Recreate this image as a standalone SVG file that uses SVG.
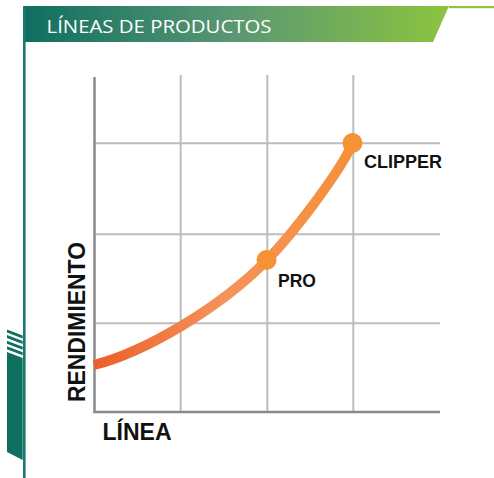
<svg xmlns="http://www.w3.org/2000/svg" width="494" height="478" viewBox="0 0 494 478">
<defs>
<linearGradient id="hdr" x1="23" y1="0" x2="449" y2="0" gradientUnits="userSpaceOnUse">
<stop offset="0" stop-color="#0E6E60"/>
<stop offset="0.5" stop-color="#5A9872"/>
<stop offset="1" stop-color="#8CC43F"/>
</linearGradient>
<linearGradient id="crv" x1="94" y1="0" x2="353" y2="0" gradientUnits="userSpaceOnUse">
<stop offset="0" stop-color="#EC5E28"/>
<stop offset="0.5" stop-color="#F4935C"/>
<stop offset="1" stop-color="#F6903A"/>
</linearGradient>
<style>
.grid{stroke:#bdbdbd;stroke-width:2;fill:none}
.axis{stroke:#8a8a8a;stroke-width:2.5;fill:none}
.lbl{font-family:"Liberation Sans",Arial,sans-serif;font-weight:bold;fill:#111}
.dot{fill:#F59233}
.deco{fill:#0F7060}
</style>
</defs>
<rect width="494" height="478" fill="#ffffff"/>
<g id="header">
<polygon points="23,6 449,6 433,42 23,42" fill="url(#hdr)"/>
<rect x="449" y="6" width="45" height="2.2" fill="#8CC43F"/>
<text x="46.5" y="33.3" font-family="'Open Sans','Liberation Sans',sans-serif" font-size="19" fill="#ffffff" textLength="225" lengthAdjust="spacingAndGlyphs">LÍNEAS DE PRODUCTOS</text>
</g>
<g id="frame">
<rect x="23" y="6" width="2.6" height="472" fill="#1A7A6C"/>
<polygon class="deco" points="7,329.5 22.7,335.5 22.7,338.5 7,332.5"/>
<polygon class="deco" points="7,335.1 22.7,341.1 22.7,344.1 7,338.1"/>
<polygon class="deco" points="7,340.7 22.7,346.7 22.7,349.7 7,343.7"/>
<polygon class="deco" points="7,346.3 22.7,352.3 22.7,355.3 7,349.3"/>
<polygon class="deco" points="7,352 22.7,358 22.7,460 7,452"/>
</g>
<g id="grid">
<line class="grid" x1="180.7" y1="75" x2="180.7" y2="412"/>
<line class="grid" x1="267.3" y1="75" x2="267.3" y2="412"/>
<line class="grid" x1="353.3" y1="75" x2="353.3" y2="412"/>
<line class="grid" x1="94.5" y1="143.3" x2="440" y2="143.3"/>
<line class="grid" x1="94.5" y1="234.3" x2="440" y2="234.3"/>
<line class="grid" x1="94.5" y1="323.3" x2="440" y2="323.3"/>
</g>
<g id="axes">
<line class="axis" x1="94.5" y1="77" x2="94.5" y2="413"/>
<line class="axis" x1="93.3" y1="412" x2="440" y2="412"/>
<text class="lbl" x="102.5" y="440" font-size="23">LÍNEA</text>
<text class="lbl" font-size="23" transform="translate(85,402) rotate(-90)" textLength="160" lengthAdjust="spacingAndGlyphs">RENDIMIENTO</text>
</g>
<g id="connectors">
<path d="M94,365 C145,352 220,308 267,260 C292,234.5 338,175 353,143" fill="none" stroke="url(#crv)" stroke-width="10"/>
</g>
<g id="pro">
<circle class="dot" cx="266.5" cy="260" r="10"/>
<text class="lbl" x="278" y="286.7" font-size="17.5">PRO</text>
</g>
<g id="clipper">
<circle class="dot" cx="352.5" cy="143" r="10"/>
<text class="lbl" x="364" y="168.3" font-size="17.5" textLength="78" lengthAdjust="spacingAndGlyphs">CLIPPER</text>
</g>
</svg>
